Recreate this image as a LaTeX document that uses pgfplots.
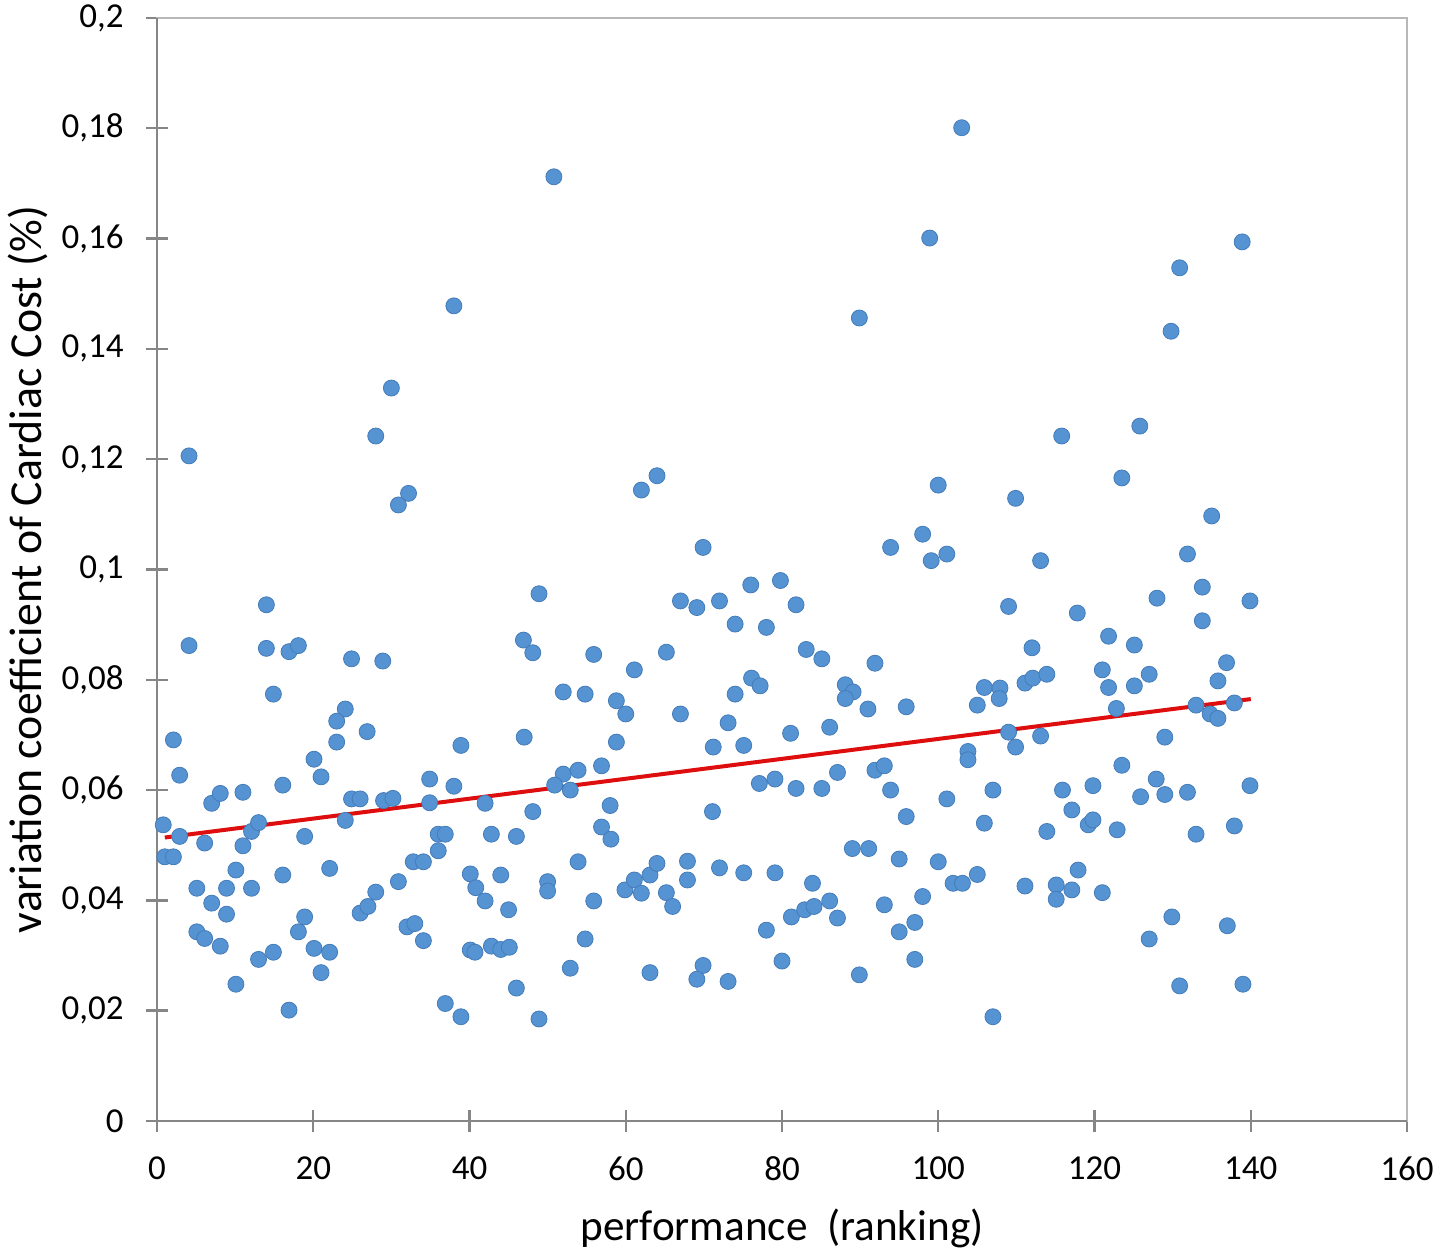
\documentclass[border=0pt]{standalone}
\usepackage{fontspec}
\setmainfont{Carlito}
\usepackage{pgfplots}
\pgfplotsset{compat=1.18}
\usepackage{pgfplotstable}
\definecolor{ptblue}{RGB}{86,147,210}
\definecolor{ptbluedark}{RGB}{68,124,185}
\definecolor{axdark}{RGB}{134,134,134}
\definecolor{axlight}{RGB}{184,184,184}
\definecolor{trendred}{RGB}{222,14,14}

\pgfplotstableread{
x y
50.8 0.1712
103.0 0.1801
98.9 0.1601
138.9 0.1594
130.9 0.1547
38.0 0.1478
89.9 0.1456
129.8 0.1432
30.0 0.1329
28.0 0.1242
115.8 0.1242
125.8 0.1260
4.1 0.1206
32.2 0.1138
30.9 0.1117
14.0 0.0936
4.1 0.0862
14.0 0.0857
16.9 0.0851
18.1 0.0862
24.9 0.0838
28.9 0.0834
14.9 0.0774
24.1 0.0747
23.0 0.0725
26.9 0.0706
2.1 0.0691
2.9 0.0627
0.8 0.0537
1.0 0.0479
2.1 0.0479
2.9 0.0516
5.1 0.0422
6.1 0.0504
7.0 0.0395
7.0 0.0576
8.1 0.0594
5.1 0.0343
6.1 0.0331
8.1 0.0317
8.9 0.0422
8.9 0.0375
10.1 0.0455
10.1 0.0248
11.0 0.0596
11.0 0.0499
12.1 0.0422
12.1 0.0525
13.0 0.0541
13.0 0.0293
14.9 0.0306
16.1 0.0609
16.1 0.0446
16.9 0.0201
18.1 0.0343
18.9 0.0370
18.9 0.0516
20.1 0.0656
21.0 0.0624
20.1 0.0313
21.0 0.0269
22.1 0.0306
22.1 0.0458
23.0 0.0687
24.1 0.0545
24.9 0.0584
26.0 0.0584
26.0 0.0377
27.0 0.0389
28.0 0.0415
29.0 0.0581
30.2 0.0585
30.9 0.0434
32.0 0.0352
33.0 0.0358
32.8 0.0470
34.1 0.0470
34.1 0.0327
34.9 0.0620
34.9 0.0577
36.0 0.0520
36.9 0.0520
36.0 0.0490
36.9 0.0213
38.0 0.0607
38.9 0.0681
38.9 0.0189
40.1 0.0448
40.8 0.0423
40.1 0.0310
40.7 0.0306
64.0 0.1170
62.0 0.1144
69.9 0.1040
48.9 0.0956
67.0 0.0943
69.1 0.0931
72.0 0.0943
76.0 0.0972
79.8 0.0980
81.8 0.0936
74.0 0.0901
78.0 0.0895
46.9 0.0872
48.1 0.0849
55.9 0.0846
65.2 0.0850
61.1 0.0818
52.0 0.0778
54.8 0.0774
58.8 0.0762
60.0 0.0738
67.0 0.0738
76.1 0.0803
77.2 0.0789
74.0 0.0774
73.1 0.0722
81.1 0.0703
47.0 0.0696
58.8 0.0687
71.2 0.0678
75.1 0.0681
52.0 0.0629
53.9 0.0636
56.9 0.0644
50.9 0.0609
52.9 0.0600
42.0 0.0576
48.1 0.0561
58.0 0.0572
71.1 0.0561
77.1 0.0612
79.1 0.0620
81.8 0.0603
42.8 0.0520
46.0 0.0516
56.9 0.0533
58.1 0.0511
53.9 0.0470
42.0 0.0399
44.0 0.0446
45.0 0.0383
50.0 0.0434
50.0 0.0417
55.9 0.0399
59.9 0.0419
61.1 0.0437
62.0 0.0413
63.1 0.0446
64.0 0.0467
65.2 0.0414
66.0 0.0389
67.9 0.0471
67.9 0.0437
72.0 0.0459
75.1 0.0450
79.1 0.0450
81.2 0.0370
78.0 0.0346
42.8 0.0317
44.0 0.0311
45.1 0.0315
54.8 0.0330
52.9 0.0277
63.1 0.0269
69.9 0.0282
69.1 0.0257
73.1 0.0253
80.0 0.0290
46.0 0.0241
48.9 0.0185
100.0 0.1153
109.9 0.1129
98.0 0.1064
93.9 0.1040
99.1 0.1016
101.1 0.1028
113.1 0.1016
109.0 0.0933
117.8 0.0921
83.1 0.0855
85.1 0.0838
121.8 0.0879
112.0 0.0858
91.9 0.0830
88.1 0.0791
89.1 0.0778
88.1 0.0766
91.0 0.0747
95.9 0.0751
86.1 0.0714
105.9 0.0786
107.9 0.0785
107.8 0.0766
105.0 0.0754
111.1 0.0794
112.1 0.0803
113.9 0.0810
121.0 0.0818
121.8 0.0786
122.8 0.0748
109.0 0.0705
113.1 0.0698
109.9 0.0678
103.8 0.0670
103.8 0.0655
123.5 0.0645
87.1 0.0632
91.9 0.0636
93.1 0.0644
85.1 0.0603
93.9 0.0600
101.1 0.0584
107.0 0.0600
115.9 0.0600
119.8 0.0608
117.1 0.0564
119.2 0.0537
119.8 0.0546
122.9 0.0528
95.9 0.0552
105.9 0.0540
113.9 0.0525
89.0 0.0494
91.1 0.0494
95.0 0.0475
100.0 0.0470
101.9 0.0431
103.1 0.0431
105.0 0.0447
111.1 0.0426
115.1 0.0428
115.1 0.0402
117.1 0.0419
117.9 0.0455
121.0 0.0414
83.9 0.0431
82.9 0.0383
84.1 0.0389
86.1 0.0399
87.1 0.0368
93.1 0.0392
98.0 0.0407
97.0 0.0360
95.0 0.0343
97.0 0.0293
89.9 0.0265
107.0 0.0189
123.5 0.1166
135.0 0.1097
131.9 0.1028
133.8 0.0968
128.0 0.0948
139.9 0.0943
133.8 0.0907
125.1 0.0863
136.9 0.0831
127.0 0.0810
125.1 0.0789
135.8 0.0798
133.0 0.0754
137.9 0.0758
134.8 0.0738
135.8 0.0730
129.0 0.0696
127.9 0.0620
139.9 0.0608
125.9 0.0588
129.0 0.0592
131.9 0.0596
133.0 0.0520
137.9 0.0535
129.9 0.0370
137.0 0.0354
127.0 0.0330
130.9 0.0245
139.0 0.0248
}\cardiac

\begin{document}
\begin{tikzpicture}
\begin{axis}[
  name=ax,
  scale only axis,
  width=625pt, height=551.5pt,
  xmin=0, xmax=160, ymin=0, ymax=0.2,
  xtick={0,20,40,60,80,100,120,140,160},
  ytick={0,0.02,0.04,0.06,0.08,0.1,0.12,0.14,0.16,0.18,0.2},
  scaled y ticks=false,
  clip=false,
  axis line style={draw=axlight, line width=1.2pt},
  tick pos=left,
  tick align=center,
  major tick length=11pt,
  every tick/.style={draw=axdark, line width=1.2pt},
  /pgf/number format/assume math mode=true,
  /pgf/number format/use comma,
  /pgf/number format/fixed,
  /pgf/number format/precision=2,
  ticklabel style={font=\fontsize{17.5}{20}\selectfont, text=black, inner sep=0pt},
  yticklabel style={anchor=east, xshift=-11pt},
  xticklabel style={anchor=north, yshift=-12pt},
  xlabel={performance\ \ (ranking)},
  xlabel style={font=\fontsize{21.6}{26}\selectfont, text=black, inner sep=0pt,
    at={(axis description cs:0.5,0)}, anchor=north, yshift=-44pt},
  ylabel={variation coefficient of Cardiac Cost (\%)},
  ylabel style={font=\fontsize{22.9}{27}\selectfont, text=black, inner sep=0pt,
    at={(axis description cs:-0.1032,0.5)}, anchor=center},
]
\addplot[only marks, mark=*, mark size=4pt,
  mark options={fill=ptblue, draw=ptbluedark, line width=0.4pt}]
  table[x=x, y=y] {\cardiac};
\addplot[trendred, line width=2pt, no marks] coordinates {(1,0.0514) (140,0.0765)};
\draw[axdark, line width=1.2pt] (rel axis cs:0,1) -- (rel axis cs:0,0) -- (rel axis cs:1,0);
\end{axis}
\path ([shift={(-78.5pt,-69.5pt)}]ax.south west) rectangle ([shift={(21.5pt,9pt)}]ax.north east);
\end{tikzpicture}
\end{document}
